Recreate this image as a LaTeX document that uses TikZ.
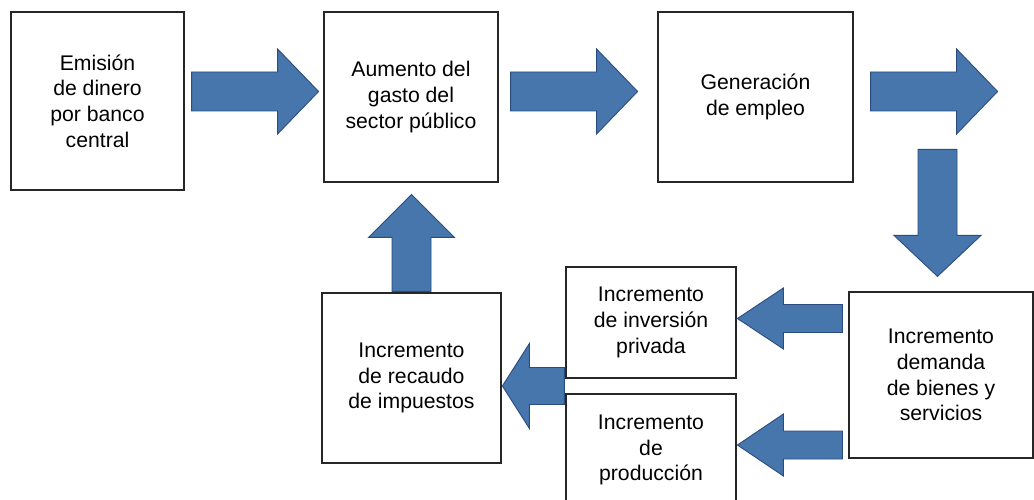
\documentclass[tikz,border=0pt]{standalone}
\usepackage{fontspec}
\setmainfont{Liberation Sans}
\usetikzlibrary{calc}
\definecolor{arrowblue}{RGB}{71,118,173}
\definecolor{arrowedge}{RGB}{42,76,128}
% #1 start, #2 angle, #3 length, #4 half shaft, #5 half head, #6 head length
\newcommand{\bigarrow}[6]{%
	\begin{scope}[shift={#1},rotate=#2]
		\draw[blockarrow] (0,-#4) -- ({#3-#6},-#4) -- ({#3-#6},-#5) -- (#3,0) -- ({#3-#6},#5) -- ({#3-#6},#4) -- (0,#4) -- cycle;
	\end{scope}}

\begin{document}
\begin{tikzpicture}[
		x=1pt,y=-1pt,
		box/.style={draw=black!85,line width=1.2pt,fill=white,inner sep=0pt,align=center,font=\fontsize{21.2}{25.7}\selectfont},
		blockarrow/.style={draw=arrowedge,fill=arrowblue,line width=0.9pt,line join=miter}
		]
		\useasboundingbox (0,0) rectangle (1034,500);
		
		\node[box,minimum width=173pt,minimum height=178pt] (emision) at (97.5,101) {Emisión\\de dinero\\por banco\\central};
		\node[box,minimum width=174pt,minimum height=170pt] (gasto) at (411,97) {Aumento del\\gasto del\\sector público};
		\node[box,minimum width=195pt,minimum height=170pt] (empleo) at (755.5,97) {Generación\\de empleo};
		\node[box,minimum width=184pt,minimum height=166pt] (demanda) at (941,375) {Incremento\\demanda\\de bienes y\\servicios};
		\node[box,minimum width=170pt,minimum height=111pt] (inversion) at (651,322.5) {Incremento\\de inversión\\privada};
		\node[box,minimum width=170pt,minimum height=112pt] (produccion) at (651,450) {Incremento\\de\\producción};
		\node[box,minimum width=179pt,minimum height=170pt] (recaudo) at (411.5,378) {Incremento\\de recaudo\\de impuestos};
		
		% top row
		\bigarrow{($(emision.east)+(7,-9.5)$)}{0}{127}{19.5}{42.5}{41}
		\bigarrow{($(gasto.east)+(12,-5.5)$)}{0}{127}{19.5}{42.5}{41}
		\bigarrow{($(empleo.east)+(17,-5.5)$)}{0}{127}{19.5}{42.5}{41}
		% down to demanda
		\bigarrow{($(demanda.north)+(-3.5,-142)$)}{270}{127}{19.5}{43.5}{41}
		% demanda to inversion / produccion
		\bigarrow{($(demanda.west)+(-6,-56.5)$)}{180}{105}{14}{30.5}{46}
		\bigarrow{($(demanda.west)+(-6,70)$)}{180}{105}{14}{31}{46}
		% back to recaudo and up
		\bigarrow{($(inversion.south west)!0.5!(produccion.north west)+(-1,0)$)}{180}{62}{18.5}{42.5}{27}
		\bigarrow{($(recaudo.north)+(0,-1)$)}{90}{97}{19.5}{43}{43}
\end{tikzpicture}
\end{document}
